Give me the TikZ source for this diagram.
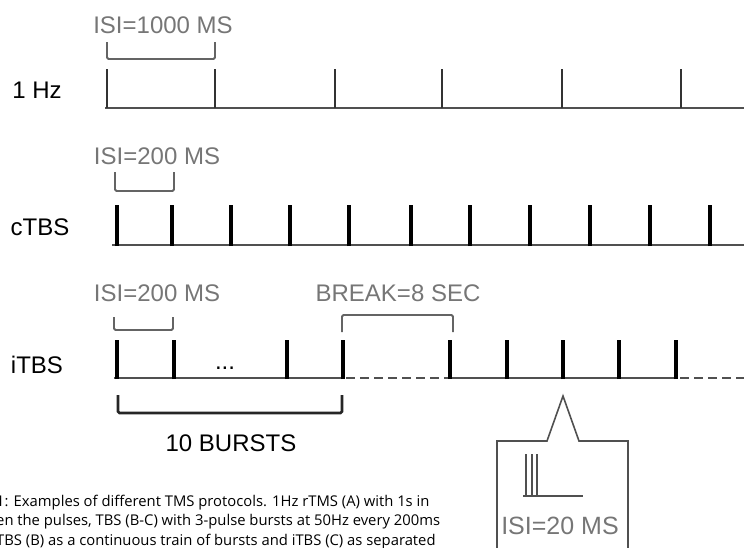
\documentclass[tikz,border=0pt]{standalone}
\usepackage{fontspec}
\setmainfont{Liberation Sans}
\newfontfamily\capfont{Open Sans}
\usetikzlibrary{positioning}

\definecolor{isigray}{RGB}{118,118,118}
\definecolor{linegray}{RGB}{80,80,80}

\begin{document}
\begin{tikzpicture}[
			x=1pt, y=-1pt,
			rowlbl/.style={
				font=\fontsize{24}{28}\selectfont,
				inner sep=0pt, text=black
			},
			isilbl/.style={
				font=\fontsize{24}{28}\selectfont,
				inner sep=0pt, text=isigray
			},
			baseln/.style={line width=2pt, linegray},
			pulsethin/.style={line width=2pt, black!80},
			pulsethick/.style={line width=4.5pt, black},
			brack/.style={line width=1.8pt, isigray!85!black, rounded corners=1.5pt},
			gapln/.style={line width=2pt, linegray, dash pattern=on 9pt off 5pt}
			]
			
			\path[use as bounding box, clip] (0,0) rectangle (744,547);
			
			%% ── Row A: 1 Hz ──────────────────────────────────────────────────
			\node[rowlbl] (hz)    at (37, 90)  {1 Hz};
			\node[isilbl] (isiA)  at (163, 25) {ISI=1000 MS};
			
			\draw[brack] (107,42) -- (107,59) -- (215,59) -- (215,42);
			\draw[baseln] (105,108) -- (744,108);
			\foreach \x in {107, 215, 335, 442, 562, 681}
			\draw[pulsethin] (\x,108) -- (\x,69);
			
			%% ── Row B: cTBS ─────────────────────────────────────────────────
			\node[rowlbl] (ctbs)  at (40, 227)  {cTBS};
			\node[isilbl] (isiB)  at (157, 156) {ISI=200 MS};
			
			\draw[brack] (115,172) -- (115,191) -- (174,191) -- (174,172);
			\draw[baseln] (112,245) -- (744,245);
			\foreach \x in {117, 172, 231, 290, 349, 411, 470, 530, 590, 650, 710}
			\draw[pulsethick] (\x,246) -- (\x,205);
			
			%% ── Row C: iTBS ─────────────────────────────────────────────────
			\node[rowlbl] (itbs)  at (37, 365)  {iTBS};
			\node[isilbl] (isiC)  at (157, 293) {ISI=200 MS};
			\node[isilbl] (brk)   at (398, 293) {BREAK=8 SEC};
			\node[rowlbl] (dots)  at (225, 368) {...};
			\node[rowlbl] (burst) at (231, 443) {10 BURSTS};
			
			\draw[brack] (114,317) -- (114,330) -- (173,330) -- (173,317);
			\draw[brack] (342,332) -- (342,315) -- (453,315) -- (453,332);
			
			%% solid trains, dashed breaks
			\draw[baseln] (114,378) -- (343,378);
			\draw[gapln]  (346,378) -- (450,378);
			\draw[baseln] (450,378) -- (676,378);
			\draw[gapln]  (680,378) -- (744,378);
			\foreach \x in {117, 174, 287, 343, 450, 507, 563, 619, 676}
			\draw[pulsethick] (\x,379) -- (\x,340);
			
			%% burst count bracket
			\draw[line width=2.6pt, black!85, rounded corners=1.5pt]
			(118,395) -- (118,413) -- (342,413) -- (342,395);
			
			%% ── Callout: one burst ──────────────────────────────────────────
			\draw[line width=1.6pt, linegray, line join=miter]
			(497,560) -- (497,441) -- (547,441) -- (563,396)
			-- (579,441) -- (628,441) -- (628,560);
			\foreach \x in {526, 532, 537}
			\draw[line width=1.3pt, linegray] (\x,496) -- (\x,454);
			\draw[line width=1.3pt, linegray] (523,496) -- (583,496);
			\node[isilbl, font=\fontsize{25}{29}\selectfont] (isiD) at (560, 526) {ISI=20 MS};
			
			%% ── Caption (cut by the frame) ──────────────────────────────────
			\node[anchor=base west, align=left, inner sep=0pt,
			font=\capfont\fontsize{14.8}{19.5}\selectfont] (cap) at (-4, 545) {
				1: Examples of different TMS protocols. 1Hz rTMS (A) with 1s in\\
				en the pulses, TBS (B-C) with 3-pulse bursts at 50Hz every 200ms\\
				TBS (B) as a continuous train of bursts and iTBS (C) as separated
			};
			
		\end{tikzpicture}
\end{document}
